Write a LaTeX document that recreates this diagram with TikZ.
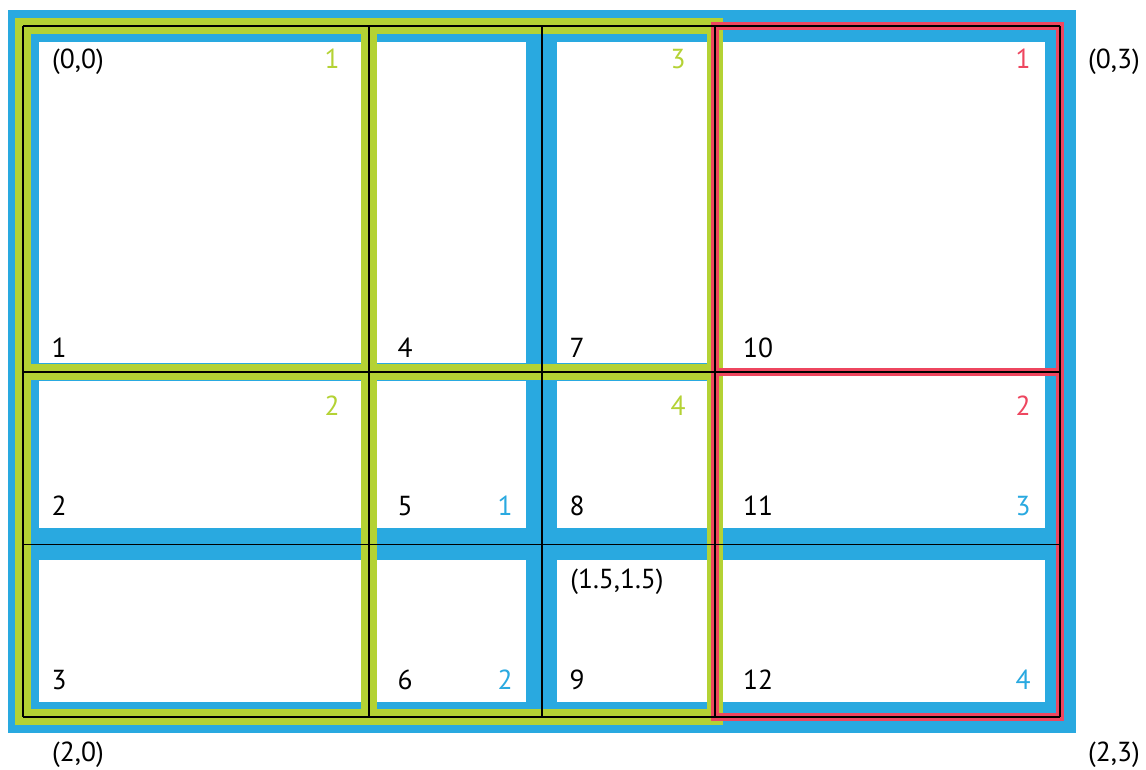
\documentclass[tikz,border=0pt]{standalone}
\usepackage{fontspec}
\setmainfont{PT Sans}
\definecolor{cblue}{RGB}{41,169,224}
\definecolor{cgreen}{RGB}{180,210,52}
\definecolor{cred}{RGB}{238,70,95}
\begin{document}
\begin{tikzpicture}[x=1pt,y=-1pt,
  lbl/.style={inner sep=0pt, anchor=base, font=\fontsize{27.5}{31}\selectfont},
  glbl/.style={lbl, text=cgreen},
  blbl/.style={lbl, text=cblue},
  rlbl/.style={lbl, text=cred},
  cellfill/.style={fill=white},
  greenframe/.style={draw=cgreen, line width=16.5pt},
  redframe/.style={draw=cred, line width=8pt},
  gridline/.style={draw=black, line width=1.3pt}]
\useasboundingbox (0,0) rectangle (1146,770);
% blue background
\fill[cblue] (8,10) rectangle (1076,733);
% white cells
\foreach \xa/\xb in {39/361, 377/526, 557/707}{
  \foreach \ya/\yb in {42/363, 381/528, 560/702}{
    \path[cellfill] (\xa,\ya) rectangle (\xb,\yb);
  }
}
\path[cellfill] (722,42) rectangle (1045,372);
\path[cellfill] (722,372) rectangle (1045,528);
\path[cellfill] (722,560) rectangle (1045,702);
% green regions
\path[greenframe] (23,26) rectangle (369,372);
\path[greenframe] (23,372) rectangle (369,717);
\path[greenframe] (369,26) rectangle (715,372);
\path[greenframe] (369,372) rectangle (715,717);
% red regions
\path[redframe] (715,26) rectangle (1060,372);
\path[redframe] (715,372) rectangle (1060,717);
% black grid
\foreach \x in {23,369,542,715,1060}{ \path[gridline] (\x,26) -- (\x,717); }
\foreach \y in {26,372,544.5,717}{ \path[gridline] (23,\y) -- (1060,\y); }
% cell numbers
\node[lbl] (n1) at (59,357) {1};
\node[lbl] (n2) at (59,515) {2};
\node[lbl] (n3) at (59,689) {3};
\node[lbl] (n4) at (405,357) {4};
\node[lbl] (n5) at (405,515) {5};
\node[lbl] (n6) at (405,689) {6};
\node[lbl] (n7) at (577,357) {7};
\node[lbl] (n8) at (577,515) {8};
\node[lbl] (n9) at (577,689) {9};
\node[lbl] (n10) at (758,357) {10};
\node[lbl] (n11) at (758,515) {11};
\node[lbl] (n12) at (758,689) {12};
% green region numbers
\node[glbl] (g1) at (332,69) {1};
\node[glbl] (g2) at (332,415) {2};
\node[glbl] (g3) at (678,69) {3};
\node[glbl] (g4) at (678,415) {4};
% red region numbers
\node[rlbl] (r1) at (1023,69) {1};
\node[rlbl] (r2) at (1023,415) {2};
% blue numbers
\node[blbl] (b1) at (505,515) {1};
\node[blbl] (b2) at (505,689) {2};
\node[blbl] (b3) at (1023,515) {3};
\node[blbl] (b4) at (1023,689) {4};
% coordinates
\node[lbl] (c00) at (78,69) {(0,0)};
\node[lbl] (c1515) at (617,588) {(1.5,1.5)};
\node[lbl] (c03) at (1114,69) {(0,3)};
\node[lbl] (c20) at (78,761) {(2,0)};
\node[lbl] (c23) at (1114,761) {(2,3)};
\end{tikzpicture}
\end{document}
